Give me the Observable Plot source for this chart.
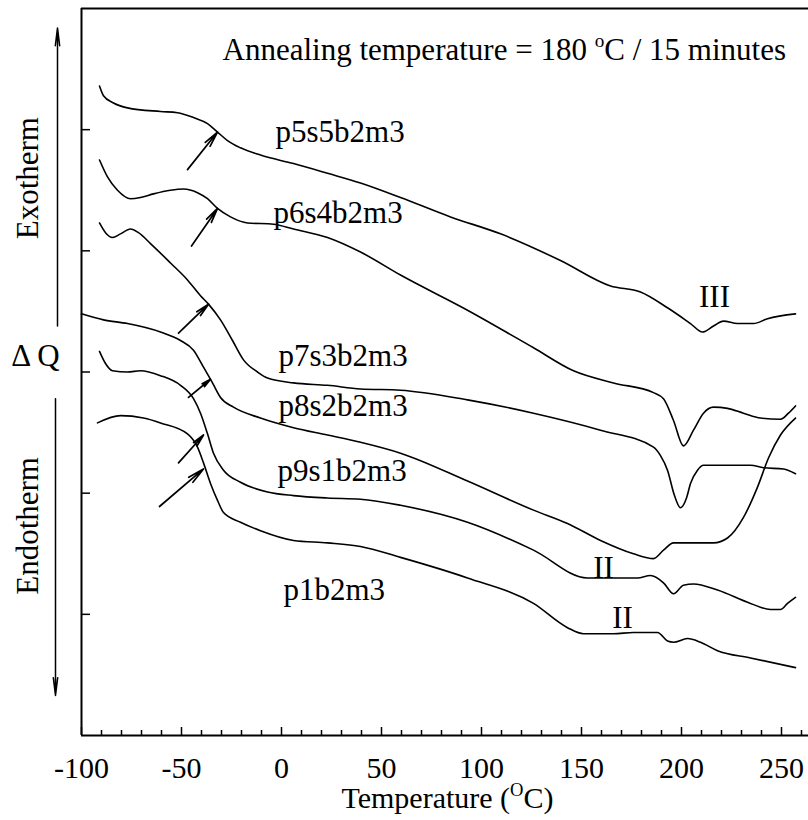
<!DOCTYPE html>
<html><head><meta charset="utf-8">
<script src="https://cdn.jsdelivr.net/npm/d3@7"></script>
<script src="https://cdn.jsdelivr.net/npm/@observablehq/plot@0.6"></script>
<style>html,body{margin:0;padding:0;background:#fff}svg{display:block}</style>
</head><body><div id="chart"></div>
<script>
// ---- data (temperature in °C, ΔQ in arbitrary offset units) ----
const seriesNames = ["p5s5b2m3","p6s4b2m3","p7s3b2m3","p8s2b2m3","p9s1b2m3","p1b2m3"];
const tP5 = [-91,-89,-84,-77,-60.5,-52,-44,-37,-32,-27,-20.5,-10.5,6,23,39.5,59.5,84.5,109.5,139.5,164.5,179.5,193,204.5,210.5,216,221,228,236,243,257];
const qP5 = [5.36,5.28,5.22,5.18,5.15,5.14,5.10,5.05,4.98,4.91,4.85,4.79,4.72,4.64,4.56,4.44,4.28,4.14,3.92,3.71,3.66,3.53,3.40,3.33,3.38,3.42,3.40,3.40,3.44,3.48];
const tP6 = [-91,-87,-82,-75.5,-70.5,-64,-55.5,-49,-42,-37,-32,-25.5,-17,-4,6,23,39.5,59.5,93,126,146,166,186,191,196,201,206,211,216,223,231,239.5,249.5,253.5,257];
const qP6 = [4.75,4.61,4.50,4.43,4.44,4.47,4.50,4.51,4.48,4.43,4.35,4.28,4.23,4.22,4.18,4.11,3.99,3.80,3.51,3.20,3.01,2.91,2.83,2.78,2.60,2.39,2.52,2.66,2.71,2.70,2.66,2.62,2.61,2.66,2.72];
const tP7 = [-91,-88,-84.5,-80.5,-75.5,-71.5,-65.5,-55.5,-47,-40.5,-36.5,-30.5,-24.5,-19,-12,-7,6,23,39.5,59.5,93,126,159.5,186,189.5,193,196.5,199.5,202.5,204.5,208,211,218,234.5,241,251,257];
const qP7 = [4.23,4.15,4.11,4.14,4.18,4.15,4.06,3.90,3.76,3.63,3.56,3.43,3.26,3.10,3.00,2.95,2.91,2.89,2.86,2.85,2.77,2.66,2.52,2.38,2.31,2.19,1.98,1.88,1.96,2.08,2.19,2.23,2.23,2.23,2.21,2.20,2.16];
const tP8 = [-100,-89,-77,-60.5,-50.5,-44,-39,-34.5,-30.5,-24,-10.5,6,23,39.5,59.5,93,126,143,159.5,176,186,191,196,216,223,231,238,243.5,249.5,257];
const qP8 = [3.48,3.43,3.40,3.33,3.26,3.18,3.04,2.91,2.79,2.71,2.62,2.54,2.48,2.42,2.33,2.10,1.86,1.75,1.61,1.50,1.46,1.53,1.59,1.59,1.63,1.80,2.05,2.29,2.48,2.62];
const tP9 = [-91,-88,-84.5,-77,-70.5,-60.5,-50.5,-44,-40.5,-37,-34,-29,-20.5,-7,6,23,39.5,59.5,93,126,153,178,184.5,191,196,201,206,218,234.5,244.5,249.5,253,257];
const qP9 = [3.17,3.07,3.01,3.00,3.01,2.97,2.89,2.78,2.66,2.49,2.33,2.19,2.09,2.01,1.98,1.96,1.95,1.90,1.76,1.53,1.30,1.30,1.32,1.26,1.17,1.24,1.25,1.20,1.09,1.04,1.04,1.09,1.14];
const tP1 = [-92,-80.5,-69,-60.5,-47,-42,-39,-35.5,-32,-29,-20.5,-10.5,6,23,39.5,59.5,93,126,143,151,166,176,188,193,196,203,209.5,218,234.5,257];
const qP1 = [2.58,2.64,2.62,2.58,2.49,2.38,2.25,2.08,1.94,1.84,1.76,1.69,1.61,1.59,1.56,1.47,1.30,1.09,0.89,0.84,0.84,0.85,0.85,0.78,0.77,0.80,0.77,0.70,0.64,0.56];

// curve labels
const labelText = ["p5s5b2m3","p6s4b2m3","p7s3b2m3","p8s2b2m3","p9s1b2m3","p1b2m3"];
const labelT    = [-3,-4,-1.5,-1.5,-2,1];
const labelQ    = [4.98,4.31,3.13,2.72,2.18,1.20];
// transition labels (centred)
const transText = ["III","II","II"];
const transT    = [216.5,161,170.5];
const transQ    = [3.62,1.38,0.97];

// glass-transition arrows (tail -> tip)
const tgT1 = [-47,-45,-51.5,-46.5,-51.5,-61];
const tgQ1 = [4.67,4.04,3.32,2.79,2.25,1.89];
const tgT2 = [-32,-32,-36.5,-35.5,-39,-39];
const tgQ2 = [4.98,4.35,3.56,2.94,2.48,2.20];

// x axis ticks
const xMajor = [-100,-50,0,50,100,150,200,250];
const xMinor = d3.range(-90, 261, 10).filter(d => d % 50 !== 0);
const yTicks = [1,2,3,4,5];

// annotation text
const title = "Annealing temperature = 180 ^{o}C / 15 minutes";
const titleT = -29.5, titleQ = 5.66;
const xLabel = "Temperature (^{O}C)";
const sideText = ["Exotherm","Endotherm"];
const sideQ = [4.60,1.73];
const dqText = "Δ Q", dqQ = 3.13;
// side arrows: Exotherm up, Endotherm down
const sideArrowT = [-112,-113];
const sideArrowQ1 = [3.38,2.78];
const sideArrowQ2 = [5.84,0.33];

// ---- build tables ----
const tArr = [tP5,tP6,tP7,tP8,tP9,tP1], qArr = [qP5,qP6,qP7,qP8,qP9,qP1];
const rows = seriesNames.flatMap((s,i) => tArr[i].map((t,j) => ({series:s, T:t, Q:qArr[i][j]})));
const labels = labelText.map((s,i) => ({text:s, T:labelT[i], Q:labelQ[i]}));
const transLabels = transText.map((s,i) => ({text:s, T:transT[i], Q:transQ[i]}));
const tgArrows = tgT1.map((t,i) => ({x1:t, y1:tgQ1[i], x2:tgT2[i], y2:tgQ2[i]}));
const sideLabels = sideText.map((s,i) => ({text:s, Q:sideQ[i]}));
const sideArrows = sideArrowT.map((t,i) => ({x1:t, y1:sideArrowQ1[i], x2:t, y2:sideArrowQ2[i]}));

const W = 808, H = 820, mL = 81, mR = 0, mT = 8, mB = 85;
const frameW = W - mL - mR, frameH = H - mT - mB;
const FS = 31, FT = 30;
const font = "Liberation Serif, Times New Roman, serif";

const chart = Plot.plot({
  width: W, height: H,
  marginLeft: mL, marginRight: mR, marginTop: mT, marginBottom: mB,
  x: {domain: [-100, 263.5], axis: null},
  y: {domain: [0, 6], axis: null},
  style: {fontFamily: font, fontSize: FS + "px", color: "black", background: "white", overflow: "visible"},
  marks: [
    // frame: top, left, bottom
    Plot.ruleY([6], {stroke: "black", strokeWidth: 2}),
    Plot.ruleY([0], {stroke: "black", strokeWidth: 2}),
    Plot.ruleX([-100], {stroke: "black", strokeWidth: 2}),
    // inward ticks
    Plot.ruleX(xMajor, {insetTop: frameH - 8, stroke: "black", strokeWidth: 1.5}),
    Plot.ruleX(xMinor, {insetTop: frameH - 5, stroke: "black", strokeWidth: 1.5}),
    Plot.ruleY(yTicks, {insetRight: frameW - 9, stroke: "black", strokeWidth: 1.5}),
    // tick labels
    Plot.text(xMajor, {x: d => d, frameAnchor: "bottom", textAnchor: "middle", lineAnchor: "top", dy: 21, text: d => String(d), fontSize: FT}),
    Plot.text([xLabel], {x: 83, frameAnchor: "bottom", textAnchor: "middle", lineAnchor: "middle", dy: 63, text: d => d, fontSize: FT}),
    // curves
    Plot.line(rows, {x: "T", y: "Q", z: "series", stroke: "black", strokeWidth: 1.6, curve: "monotone-x"}),
    // labels
    Plot.text(labels, {x: "T", y: "Q", text: "text", textAnchor: "start", lineAnchor: "middle", fontSize: FS}),
    Plot.text(transLabels, {x: "T", y: "Q", text: "text", textAnchor: "middle", lineAnchor: "middle", fontSize: FS}),
    Plot.text([title], {x: titleT, y: titleQ, text: d => d, textAnchor: "start", lineAnchor: "middle", fontSize: FS}),
    // Tg arrows
    Plot.arrow(tgArrows, {x1: "x1", y1: "y1", x2: "x2", y2: "y2", stroke: "black", strokeWidth: 1.7, headLength: 15, headAngle: 22}),
    // side annotations
    Plot.text(sideLabels, {y: "Q", text: "text", frameAnchor: "left", dx: -53, rotate: -90, textAnchor: "middle", lineAnchor: "middle", fontSize: FS}),
    Plot.text([dqText], {y: dqQ, text: d => d, frameAnchor: "left", dx: -46, textAnchor: "middle", lineAnchor: "middle", fontSize: FS}),
    Plot.arrow(sideArrows, {x1: "x1", y1: "y1", x2: "x2", y2: "y2", stroke: "black", strokeWidth: 1.5, headLength: 18, headAngle: 14})
  ]
});

// superscripts: turn ^{..} into raised tspans (still real text)
chart.querySelectorAll("text").forEach(t => {
  const s = t.textContent;
  if (!s.includes("^{")) return;
  t.textContent = "";
  const fs = parseFloat(t.getAttribute("font-size") || (t.parentNode && t.parentNode.getAttribute("font-size")) || FS);
  const ns = "http://www.w3.org/2000/svg";
  const re = /\^\{([^}]*)\}/g;
  let last = 0, m, pending = 0;
  const raise = 0.42 * fs;
  const add = (str, sup) => {
    const sp = document.createElementNS(ns, "tspan");
    sp.textContent = str;
    if (sup) { sp.setAttribute("font-size", (0.62 * fs) + "px"); sp.setAttribute("dy", -raise); pending = raise; }
    else if (pending) { sp.setAttribute("dy", pending); pending = 0; }
    t.appendChild(sp);
  };
  while ((m = re.exec(s))) {
    if (m.index > last) add(s.slice(last, m.index), false);
    add(m[1], true);
    last = re.lastIndex;
  }
  if (last < s.length) add(s.slice(last), false);
});

document.getElementById("chart").appendChild(chart);
</script>
</body></html>
